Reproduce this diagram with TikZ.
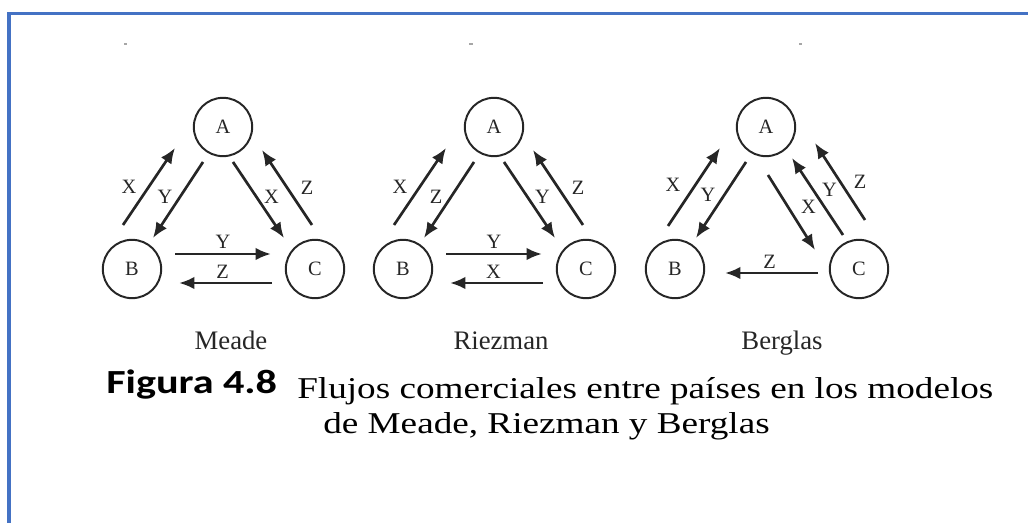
\documentclass[tikz,border=0pt]{standalone}
\usepackage{fontspec}
\setmainfont{Liberation Serif}
\newfontfamily\capfont[FakeStretch=1.23]{Liberation Serif}
\newfontfamily\figfont[FakeStretch=1.25]{Carlito}
\usetikzlibrary{arrows.meta}
\definecolor{frameblue}{HTML}{4472C4}
\definecolor{ink}{HTML}{262626}
\tikzset{>={Latex[length=11pt,width=9pt]}}
\tikzset{
	country/.style={draw=ink, circle, line width=1.4pt, minimum size=41.5pt, inner sep=0pt, text=ink, font=\fontsize{14.5}{14.5}\selectfont},
	flow/.style={->, draw=ink, line width=1.9pt},
	good/.style={inner sep=0pt, text=ink, font=\fontsize{14.5}{14.5}\selectfont},
	modelname/.style={anchor=base, inner sep=0pt, text=ink, font=\fontsize{19}{19}\selectfont},
	speck/.style={draw=gray!70, line width=1.2pt}
}

\begin{document}
\begin{tikzpicture}[x=0.025cm, y=-0.025cm]
	\useasboundingbox (0,0) rectangle (1028,523);
	% Frame
	\draw[frameblue, line width=2.8pt] (9,523) -- (9,13.5) -- (1028,13.5);
	\draw[speck] (124,44) -- (127,44);
	\draw[speck] (469,44) -- (473,44);
	\draw[speck] (799,44) -- (802,44);
	
	% Meade
	\begin{scope}[shift={(223,0)}]
		\node[country] (A1) at (0,127) {A};
		\node[country] (B1) at (-91,269) {B};
		\node[country] (C1) at (92,269) {C};
		\draw[flow] ([shift={(-9,-44)}]B1.center) -- node[good, shift={(-20,0)}] {X} ([shift={(-48,21)}]A1.center);
		\draw[flow] ([shift={(-20,35)}]A1.center) -- node[good, shift={(-13,-3)}] {Y} ([shift={(21,-31)}]B1.center);
		\draw[flow] ([shift={(10,35)}]A1.center) -- node[good, shift={(13,-3)}] {X} ([shift={(-31,-31)}]C1.center);
		\draw[flow] ([shift={(-3,-44)}]C1.center) -- node[good, shift={(20,0)}] {Z} ([shift={(39,23)}]A1.center);
		\draw[flow] ([shift={(43,-15)}]B1.center) -- node[good, shift={(0,-12)}] {Y} ([shift={(-44,-15)}]C1.center);
		\draw[flow] ([shift={(-43,14)}]C1.center) -- node[good, shift={(-3,-11)}] {Z} ([shift={(47,14)}]B1.center);
		\node[modelname] (M1) at (8,350) {Meade};
	\end{scope}
	
	% Riezman
	\begin{scope}[shift={(494,0)}]
		\node[country] (A2) at (0,127) {A};
		\node[country] (B2) at (-91,269) {B};
		\node[country] (C2) at (92,269) {C};
		\draw[flow] ([shift={(-9,-44)}]B2.center) -- node[good, shift={(-20,0)}] {X} ([shift={(-48,21)}]A2.center);
		\draw[flow] ([shift={(-20,35)}]A2.center) -- node[good, shift={(-13,-3)}] {Z} ([shift={(21,-31)}]B2.center);
		\draw[flow] ([shift={(10,35)}]A2.center) -- node[good, shift={(13,-3)}] {Y} ([shift={(-31,-31)}]C2.center);
		\draw[flow] ([shift={(-3,-44)}]C2.center) -- node[good, shift={(20,0)}] {Z} ([shift={(39,23)}]A2.center);
		\draw[flow] ([shift={(43,-15)}]B2.center) -- node[good, shift={(0,-12)}] {Y} ([shift={(-44,-15)}]C2.center);
		\draw[flow] ([shift={(-43,14)}]C2.center) -- node[good, shift={(-3,-11)}] {X} ([shift={(47,14)}]B2.center);
		\node[modelname] (M2) at (7,350) {Riezman};
	\end{scope}
	
	% Berglas
	\begin{scope}[shift={(766,0)}]
		\node[country] (A3) at (0,127) {A};
		\node[country] (B3) at (-91,269) {B};
		\node[country] (C3) at (93,269) {C};
		\draw[flow] ([shift={(-7,-43)}]B3.center) -- node[good, shift={(-21,-2)}] {X} ([shift={(-46,21)}]A3.center);
		\draw[flow] ([shift={(-20,35)}]A3.center) -- node[good, shift={(-13,-5)}] {Y} ([shift={(21,-31)}]B3.center);
		\draw[flow] ([shift={(2,48)}]A3.center) -- node[good, shift={(17,-6)}] {X} ([shift={(-44,-19)}]C3.center);
		\draw[flow] ([shift={(-16,-34)}]C3.center) -- node[good, shift={(12,-7)}] {Y} ([shift={(26,31)}]A3.center);
		\draw[flow] ([shift={(6,-49)}]C3.center) -- node[good, shift={(20,0)}] {Z} ([shift={(49,16)}]A3.center);
		\draw[flow] ([shift={(-41,4)}]C3.center) -- node[good, shift={(-2,-11)}] {Z} ([shift={(50,4)}]B3.center);
		\node[modelname] (M3) at (16,350) {Berglas};
	\end{scope}
	
	% Caption
	\node[anchor=base west, inner sep=0pt, font=\figfont\bfseries\fontsize{24}{24}\selectfont] (fig) at (106,394) {Figura 4.8};
	\node[anchor=base west, inner sep=0pt, font=\capfont\fontsize{21.5}{24}\selectfont] (cap1) at (297,399) {Flujos comerciales entre países en los modelos};
	\node[anchor=base west, inner sep=0pt, font=\capfont\fontsize{21.5}{24}\selectfont] (cap2) at (323,434) {de Meade, Riezman y Berglas};
\end{tikzpicture}
\end{document}
